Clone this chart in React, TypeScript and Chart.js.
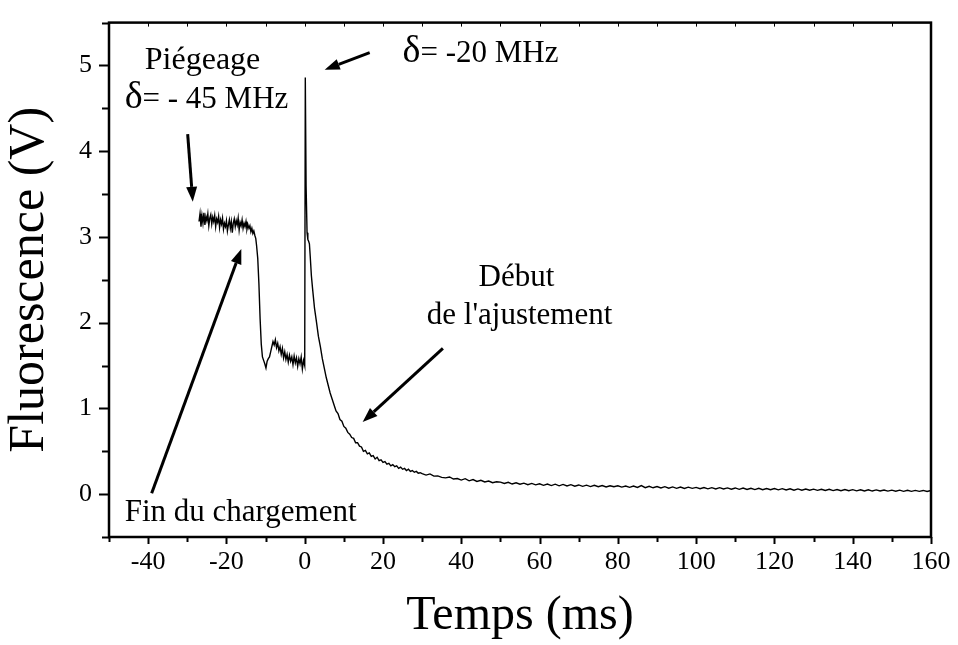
import React, { useEffect, useRef } from "react";
import { Chart, registerables } from "chart.js";

Chart.register(...registerables);

const SERIF = '"Liberation Serif", "Times New Roman", Times, serif';

// ---- axis settings ----
const X_MIN = -50;
const X_MAX = 160;
const X_STEP = 10;
const Y_MIN = -0.5;
const Y_MAX = 5.5;
const Y_STEP = 0.5;
const X_TITLE = "Temps (ms)";
const Y_TITLE = "Fluorescence (V)";

// ---- trace: loading plateau (t = -27 ms, every 0.25 ms) ----
const plateauStartMs = -27;
const plateauStepMs = 0.25;
const plateauV = [
  3.18, 3.27, 3.12, 3.25, 3.16, 3.28, 3.14, 3.24, 3.19, 3.27, 3.13, 3.22, 3.26, 3.15, 3.23,
  3.18, 3.25, 3.12, 3.21, 3.17, 3.24, 3.11, 3.2, 3.15, 3.22, 3.09, 3.16, 3.12, 3.19, 3.07,
  3.14, 3.2, 3.1, 3.18, 3.05, 3.16, 3.21, 3.12, 3.19, 3.14, 3.22, 3.08, 3.17, 3.13, 3.2,
  3.1, 3.16, 3.12, 3.18, 3.09, 3.14, 3.1, 3.13, 3.06, 3.1, 3.04, 3.07, 3.02, 2.98,
];

// ---- trace: drop, bump, spike ----
const transitionMs = [
  -12.3, -12.0, -11.7, -11.4, -11.1, -10.8, -10.5, -10.2, -9.9, -9.6, -9.3, -9.0, -8.7, -8.4,
  -8.1, -7.8, -7.5, -7.2, -6.9, -6.6, -6.3, -6.0, -5.7, -5.4, -5.1, -4.8, -4.5, -4.2, -3.9,
  -3.6, -3.3, -3.0, -2.7, -2.4, -2.1, -1.8, -1.5, -1.2, -0.9, -0.6, -0.3, 0.0, 0.15, 0.35,
  0.6, 0.8, 1.0, 1.2, 1.4, 1.7,
];
const transitionV = [
  2.9, 2.75, 2.45, 2.05, 1.75, 1.6, 1.56, 1.52, 1.47, 1.55, 1.58, 1.6, 1.66, 1.72, 1.78,
  1.74, 1.8, 1.71, 1.76, 1.67, 1.72, 1.63, 1.7, 1.59, 1.66, 1.57, 1.63, 1.54, 1.62, 1.55,
  1.6, 1.51, 1.61, 1.53, 1.59, 1.49, 1.58, 1.52, 1.6, 1.46, 1.56, 1.5, 4.86, 3.6, 3.05,
  2.97, 2.95, 2.92, 2.78, 2.55,
];

// ---- trace: fast decay (t = 2 ms, every 0.5 ms) ----
const decayStartMs = 2;
const decayStepMs = 0.5;
const decayV = [
  2.4, 2.17, 2.01, 1.84, 1.72, 1.58, 1.47, 1.36, 1.27, 1.18, 1.11, 1.04, 0.97, 0.94, 0.87,
  0.85, 0.79, 0.77, 0.72, 0.7, 0.66, 0.65, 0.6, 0.6, 0.56, 0.55, 0.5, 0.51, 0.47, 0.48,
  0.44, 0.45, 0.41, 0.43, 0.39, 0.4, 0.37, 0.38, 0.35, 0.36, 0.33, 0.345, 0.32, 0.33, 0.3,
  0.315, 0.29, 0.3, 0.275, 0.29, 0.265, 0.275, 0.255, 0.265, 0.245, 0.25,
];

// ---- trace: slow tail (t = 30 ms, every 1 ms) ----
const tailStartMs = 30;
const tailStepMs = 1;
const tailV = [
  0.238, 0.222, 0.236, 0.21, 0.212, 0.196, 0.19, 0.2, 0.176, 0.182,
  0.164, 0.18, 0.155, 0.17, 0.148, 0.162, 0.142, 0.153, 0.133, 0.145,
  0.14, 0.124, 0.138, 0.118, 0.132, 0.115, 0.128, 0.11, 0.125, 0.108,
  0.121, 0.103, 0.118, 0.1, 0.116, 0.097, 0.113, 0.095, 0.11, 0.093,
  0.107, 0.091, 0.105, 0.088, 0.103, 0.087, 0.101, 0.083, 0.098, 0.086,
  0.097, 0.082, 0.095, 0.079, 0.094, 0.078, 0.1, 0.075, 0.092, 0.074,
  0.088, 0.072, 0.087, 0.069, 0.084, 0.068, 0.082, 0.066, 0.081, 0.067,
  0.079, 0.064, 0.077, 0.062, 0.076, 0.06, 0.075, 0.06, 0.073, 0.058,
  0.072, 0.056, 0.071, 0.054, 0.069, 0.053, 0.068, 0.052, 0.066, 0.051,
  0.065, 0.05, 0.064, 0.048, 0.062, 0.046, 0.061, 0.045, 0.059, 0.045,
  0.058, 0.044, 0.057, 0.042, 0.056, 0.041, 0.054, 0.04, 0.053, 0.04,
  0.052, 0.038, 0.051, 0.037, 0.05, 0.036, 0.049, 0.036, 0.048, 0.035,
  0.047, 0.034, 0.046, 0.033, 0.045, 0.032, 0.044, 0.032, 0.043, 0.031, 0.042,
];

// ---- annotations (data coordinates) ----
const labelTexts = ["Piégeage", "Fin du chargement", "Début", "de l'ajustement"];
const labelX = [-26.1, -46.0, 54.1, 54.9];
const labelY = [4.96, -0.31, 2.43, 1.99];
const labelAlign = ["center", "left", "center", "center"];
const labelSize = [32, 31, 31, 31];

const deltaTexts = ["= - 45 MHz", "= -20 MHz"];
const deltaX = [-46.0, 25.0];
const deltaY = [4.5, 5.04];

const arrowFromX = [-29.9, 16.6, -39.1, 35.3];
const arrowFromY = [4.2, 5.15, 0.01, 1.7];
const arrowToX = [-28.6, 5.1, -16.2, 14.8];
const arrowToY = [3.41, 4.95, 2.86, 0.84];

function buildPoints() {
  const pts: { x: number; y: number }[] = [];
  plateauV.forEach((v, i) => pts.push({ x: plateauStartMs + i * plateauStepMs, y: v }));
  transitionV.forEach((v, i) => pts.push({ x: transitionMs[i], y: v }));
  decayV.forEach((v, i) => pts.push({ x: decayStartMs + i * decayStepMs, y: v }));
  tailV.forEach((v, i) => pts.push({ x: tailStartMs + i * tailStepMs, y: v }));
  return pts;
}

const framePlugin = {
  id: "frameTicksNotes",
  afterDraw(chart: any) {
    const { ctx, chartArea } = chart;
    const xs = chart.scales.x;
    const ys = chart.scales.y;
    const { left, right, top, bottom } = chartArea;
    ctx.save();
    ctx.strokeStyle = "#000";
    ctx.fillStyle = "#000";
    // frame
    ctx.lineWidth = 2.5;
    ctx.strokeRect(left, top, right - left, bottom - top);
    // x ticks
    xs.ticks.forEach((t: any) => {
      const px = Math.round(xs.getPixelForValue(t.value)) + 0.5;
      const major = Math.round(t.value) % 20 === 0;
      ctx.lineWidth = 2;
      ctx.beginPath();
      ctx.moveTo(px, bottom);
      ctx.lineTo(px, bottom + (major ? 7 : 5));
      ctx.stroke();
      ctx.lineWidth = 1;
      ctx.beginPath();
      ctx.moveTo(px, top);
      ctx.lineTo(px, top + 4);
      ctx.stroke();
    });
    // y ticks
    ys.ticks.forEach((t: any) => {
      const py = Math.round(ys.getPixelForValue(t.value)) + 0.5;
      const major = Math.abs(t.value - Math.round(t.value)) < 1e-6;
      ctx.lineWidth = 2;
      ctx.beginPath();
      ctx.moveTo(left, py);
      ctx.lineTo(left - (major ? 10 : 7), py);
      ctx.stroke();
    });
    // labels
    ctx.textBaseline = "alphabetic";
    labelTexts.forEach((txt, i) => {
      ctx.font = `${labelSize[i]}px ${SERIF}`;
      ctx.textAlign = labelAlign[i] as CanvasTextAlign;
      ctx.fillText(txt, xs.getPixelForValue(labelX[i]), ys.getPixelForValue(labelY[i]));
    });
    // delta labels
    deltaTexts.forEach((txt, i) => {
      const px = xs.getPixelForValue(deltaX[i]);
      const py = ys.getPixelForValue(deltaY[i]);
      ctx.textAlign = "left";
      ctx.font = `38px ${SERIF}`;
      ctx.fillText("δ", px, py);
      const w = ctx.measureText("δ").width;
      ctx.font = `31px ${SERIF}`;
      ctx.fillText(txt, px + w, py);
    });
    // arrows
    arrowFromX.forEach((_, i) => {
      const x1 = xs.getPixelForValue(arrowFromX[i]);
      const y1 = ys.getPixelForValue(arrowFromY[i]);
      const x2 = xs.getPixelForValue(arrowToX[i]);
      const y2 = ys.getPixelForValue(arrowToY[i]);
      const ang = Math.atan2(y2 - y1, x2 - x1);
      const hl = 15;
      const hw = 5.5;
      const bx = x2 - hl * Math.cos(ang);
      const by = y2 - hl * Math.sin(ang);
      ctx.lineWidth = 3;
      ctx.beginPath();
      ctx.moveTo(x1, y1);
      ctx.lineTo(bx, by);
      ctx.stroke();
      ctx.beginPath();
      ctx.moveTo(x2, y2);
      ctx.lineTo(bx + hw * Math.sin(ang), by - hw * Math.cos(ang));
      ctx.lineTo(bx - hw * Math.sin(ang), by + hw * Math.cos(ang));
      ctx.closePath();
      ctx.fill();
    });
    ctx.restore();
  },
};

export default function App() {
  const ref = useRef<HTMLCanvasElement | null>(null);
  useEffect(() => {
    if (!ref.current) return;
    const chart = new Chart(ref.current, {
      type: "line",
      data: {
        datasets: [
          {
            data: buildPoints(),
            borderColor: "#000",
            borderWidth: 1.4,
            pointRadius: 0,
            tension: 0,
            fill: false,
          },
        ],
      },
      options: {
        animation: false,
        responsive: false,
        events: [],
        parsing: false as any,
        plugins: { legend: { display: false }, tooltip: { enabled: false } },
        layout: { padding: { top: 7, right: 27, left: 0, bottom: 0 } },
        scales: {
          x: {
            type: "linear",
            min: X_MIN,
            max: X_MAX,
            ticks: {
              stepSize: X_STEP,
              autoSkip: false,
              maxRotation: 0,
              color: "#000",
              padding: 3,
              font: { family: SERIF, size: 26 },
              callback: (v: any) => (Math.round(v) % 20 === 0 ? String(Math.round(v)) : ""),
            },
            grid: { display: true, drawOnChartArea: false, color: "rgba(0,0,0,0)", tickLength: 7 },
            border: { display: false },
            title: { display: true, text: X_TITLE, color: "#000", padding: 0, font: { family: SERIF, size: 48 } },
            afterFit: (s: any) => {
              s.height = 108;
            },
          },
          y: {
            type: "linear",
            min: Y_MIN,
            max: Y_MAX,
            ticks: {
              stepSize: Y_STEP,
              autoSkip: false,
              color: "#000",
              padding: 7,
              font: { family: SERIF, size: 26 },
              callback: (v: any) => {
                const n = Number(v);
                return Math.abs(n - Math.round(n)) < 1e-6 && n >= 0 ? String(Math.round(n)) : "";
              },
            },
            grid: { display: true, drawOnChartArea: false, color: "rgba(0,0,0,0)", tickLength: 10 },
            border: { display: false },
            title: { display: true, text: Y_TITLE, color: "#000", padding: 0, font: { family: SERIF, size: 50 } },
            afterFit: (s: any) => {
              s.width = 109;
            },
          },
        },
      },
      plugins: [framePlugin],
    });
    return () => chart.destroy();
  }, []);
  return (
    <div style={{ position: "fixed", left: 0, top: 0, width: 958, height: 645, background: "#fff" }}>
      <canvas ref={ref} width={958} height={645} style={{ display: "block" }} />
    </div>
  );
}
